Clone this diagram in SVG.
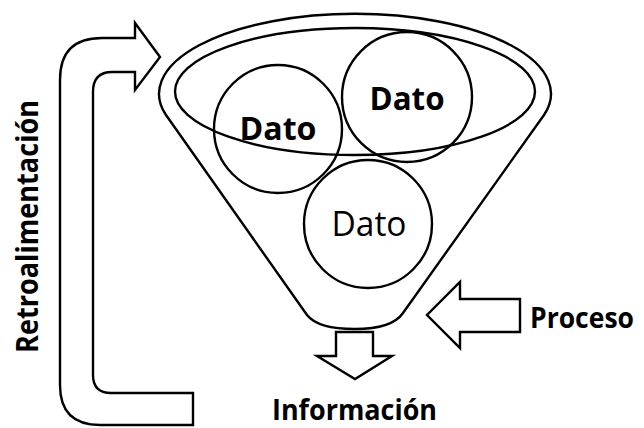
<svg xmlns="http://www.w3.org/2000/svg" width="644" height="428" viewBox="0 0 644 428">
  <style>
    .ln { fill: none; stroke: #000; stroke-width: 2.4; stroke-linejoin: round; }
    .blk { fill: #fff; stroke: #000; stroke-width: 2.4; stroke-linejoin: miter; }
    .lbl { font-family: "Open Sans", "Liberation Sans", sans-serif; fill: #000; }
    .b { font-weight: 700; }
  </style>
  <rect width="644" height="428" fill="#fff"/>

  <!-- funnel body: elliptical rim flowing into straight sides and a rounded spout -->
  <g id="funnel">
    <path class="ln" d="M307,315 L166,115 A196 80 0 1 1 544,115 L403,313 Q392,329 355,329 Q318,329 307,315 Z"/>
    <ellipse class="ln" cx="355" cy="91.5" rx="180" ry="63.5"/>
  </g>

  <!-- data items -->
  <g id="dato1">
    <circle class="ln" cx="278" cy="129" r="64"/>
    <text class="lbl b" x="278" y="140" font-size="33" text-anchor="middle" textLength="77" lengthAdjust="spacingAndGlyphs">Dato</text>
  </g>
  <g id="dato2">
    <circle class="ln" cx="407" cy="97" r="65"/>
    <text class="lbl b" x="407" y="110" font-size="33" text-anchor="middle" textLength="75" lengthAdjust="spacingAndGlyphs">Dato</text>
  </g>
  <g id="dato3">
    <circle class="ln" cx="368" cy="224" r="64"/>
    <text class="lbl" x="369" y="236" font-size="34" text-anchor="middle" textLength="75" lengthAdjust="spacingAndGlyphs">Dato</text>
  </g>

  <!-- block arrows -->
  <g id="connectors">
    <path id="feedback" class="blk" d="M193,425 L100,425 Q60,425 60,385 L60,80 Q60,38 102,38 L135,38 L135,23 L160,57 L135,90 L135,72 L112,72 Q93,72 93,92 L93,375 Q93,393 111,393 L193,393 Z"/>
    <path id="proceso-arrow" class="blk" d="M520,299 L460,299 L460,282 L427,315 L460,348 L460,332 L520,332 Z"/>
    <path id="informacion-arrow" class="blk" d="M336,332 L373,332 L373,356 L392,356 L355,379 L317,356 L336,356 Z"/>
  </g>

  <!-- labels -->
  <g id="retroalimentacion">
    <text class="lbl b" transform="translate(38,353) rotate(-90)" x="0" y="0" font-size="30" textLength="253" lengthAdjust="spacingAndGlyphs">Retroalimentación</text>
  </g>
  <g id="proceso">
    <text class="lbl b" x="530" y="328" font-size="29" textLength="104" lengthAdjust="spacingAndGlyphs">Proceso</text>
  </g>
  <g id="informacion">
    <text class="lbl b" x="272" y="420" font-size="28" textLength="165" lengthAdjust="spacingAndGlyphs">Información</text>
  </g>
</svg>
